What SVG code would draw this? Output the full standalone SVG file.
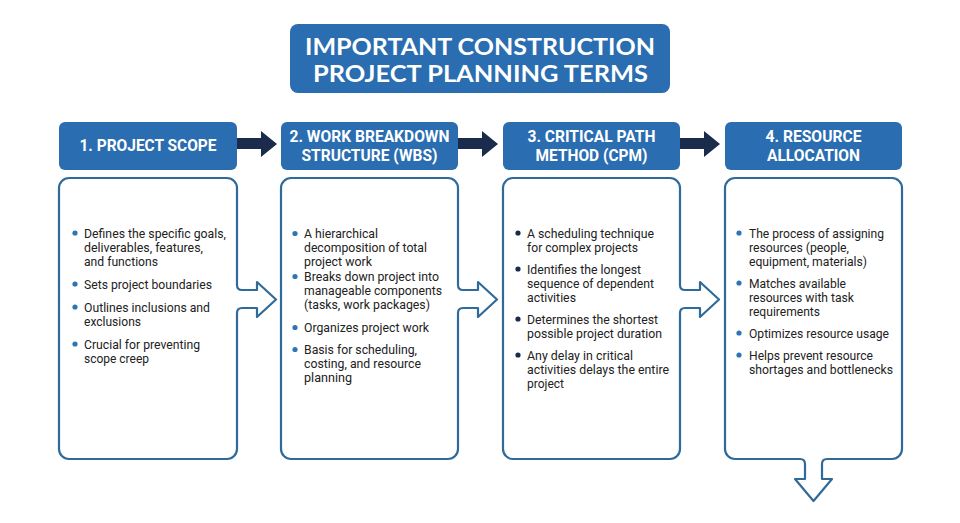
<svg xmlns="http://www.w3.org/2000/svg" width="960" height="523" viewBox="0 0 960 523">
<style>
.title{font-family:Lato,"Open Sans","Liberation Sans",sans-serif;font-weight:700;font-size:22.5px;fill:#ffffff;text-anchor:middle}
.hdr{fill:#2a6db0}
.htxt{font-family:Roboto,"Liberation Sans",sans-serif;font-weight:700;font-size:16.5px;fill:#ffffff;text-anchor:middle}
.body{fill:#ffffff;stroke:#2f6b9a;stroke-width:2.2;stroke-linejoin:round}
.t{font-family:Roboto,"Liberation Sans",sans-serif;font-size:13px;fill:#222222}
.dot{fill:#2e75b6}
.dot2{fill:#1b2a4a}
.flow{fill:#1a2b4c}
</style>
<rect width="960" height="523" fill="#ffffff"/>

<g id="title">
<rect x="290" y="24" width="380" height="69" rx="8" class="hdr"/>
<text class="title" x="480" y="54.5" textLength="350" lengthAdjust="spacingAndGlyphs">IMPORTANT CONSTRUCTION</text>
<text class="title" x="480.5" y="82" textLength="335" lengthAdjust="spacingAndGlyphs">PROJECT PLANNING TERMS</text>
</g>

<g id="connectors">
<path class="flow" d="M237 138 H261 V131 L277 144 L261 157 V149 H237 Z"/>
<path class="flow" d="M458 138 H482 V131 L498 144 L482 157 V149 H458 Z"/>
<path class="flow" d="M680 138 H704 V131 L720 144 L704 157 V149 H680 Z"/>
</g>

<g id="node1">
<rect x="59" y="122" width="178" height="48" rx="6" class="hdr"/>
<text class="htxt" x="148" y="151" textLength="137" lengthAdjust="spacingAndGlyphs">1. PROJECT SCOPE</text>
<path class="body" d="M69 178 H227 A10 10 0 0 1 237 188 V285 Q237 290 242 290 H257 V282 L276 299.5 L257 317 V308 H242 Q237 308 237 313 V449 A10 10 0 0 1 227 459 H69 A10 10 0 0 1 59 449 V188 A10 10 0 0 1 69 178 Z"/>
<circle class="dot" cx="75" cy="233" r="2.6"/>
<text class="t" x="84" y="237.5" textLength="142" lengthAdjust="spacingAndGlyphs">Defines the specific goals,</text>
<text class="t" x="84" y="251.5" textLength="119" lengthAdjust="spacingAndGlyphs">deliverables, features,</text>
<text class="t" x="84" y="265.5" textLength="74" lengthAdjust="spacingAndGlyphs">and functions</text>
<circle class="dot" cx="75" cy="284" r="2.6"/>
<text class="t" x="84" y="288.5" textLength="128" lengthAdjust="spacingAndGlyphs">Sets project boundaries</text>
<circle class="dot" cx="75" cy="307" r="2.6"/>
<text class="t" x="84" y="311.5" textLength="126" lengthAdjust="spacingAndGlyphs">Outlines inclusions and</text>
<text class="t" x="84" y="325.5" textLength="57" lengthAdjust="spacingAndGlyphs">exclusions</text>
<circle class="dot" cx="75" cy="344" r="2.6"/>
<text class="t" x="84" y="348.5" textLength="116" lengthAdjust="spacingAndGlyphs">Crucial for preventing</text>
<text class="t" x="84" y="362.5" textLength="65" lengthAdjust="spacingAndGlyphs">scope creep</text>
</g>

<g id="node2">
<rect x="281" y="122" width="177" height="48" rx="6" class="hdr"/>
<text class="htxt" x="369.5" y="142" textLength="160" lengthAdjust="spacingAndGlyphs">2. WORK BREAKDOWN</text>
<text class="htxt" x="369.5" y="161" textLength="136" lengthAdjust="spacingAndGlyphs">STRUCTURE (WBS)</text>
<path class="body" d="M291 178 H448 A10 10 0 0 1 458 188 V285 Q458 290 463 290 H478 V282 L497 299.5 L478 317 V308 H463 Q458 308 458 313 V449 A10 10 0 0 1 448 459 H291 A10 10 0 0 1 281 449 V188 A10 10 0 0 1 291 178 Z"/>
<circle class="dot" cx="295" cy="233.5" r="2.6"/>
<text class="t" x="304" y="238" textLength="74" lengthAdjust="spacingAndGlyphs">A hierarchical</text>
<text class="t" x="304" y="252" textLength="123" lengthAdjust="spacingAndGlyphs">decomposition of total</text>
<text class="t" x="304" y="266" textLength="68" lengthAdjust="spacingAndGlyphs">project work</text>
<circle class="dot" cx="295" cy="276.5" r="2.6"/>
<text class="t" x="304" y="281" textLength="135" lengthAdjust="spacingAndGlyphs">Breaks down project into</text>
<text class="t" x="304" y="295" textLength="138" lengthAdjust="spacingAndGlyphs">manageable components</text>
<text class="t" x="304" y="309" textLength="126" lengthAdjust="spacingAndGlyphs">(tasks, work packages)</text>
<circle class="dot" cx="295" cy="327.5" r="2.6"/>
<text class="t" x="304" y="332" textLength="125" lengthAdjust="spacingAndGlyphs">Organizes project work</text>
<circle class="dot" cx="295" cy="349.5" r="2.6"/>
<text class="t" x="304" y="354" textLength="113" lengthAdjust="spacingAndGlyphs">Basis for scheduling,</text>
<text class="t" x="304" y="368" textLength="117" lengthAdjust="spacingAndGlyphs">costing, and resource</text>
<text class="t" x="304" y="382" textLength="48" lengthAdjust="spacingAndGlyphs">planning</text>
</g>

<g id="node3">
<rect x="503" y="122" width="177" height="48" rx="6" class="hdr"/>
<text class="htxt" x="591.5" y="142" textLength="128" lengthAdjust="spacingAndGlyphs">3. CRITICAL PATH</text>
<text class="htxt" x="591.5" y="161" textLength="112" lengthAdjust="spacingAndGlyphs">METHOD (CPM)</text>
<path class="body" d="M513 178 H670 A10 10 0 0 1 680 188 V285 Q680 290 685 290 H700 V282 L719 299.5 L700 317 V308 H685 Q680 308 680 313 V449 A10 10 0 0 1 670 459 H513 A10 10 0 0 1 503 449 V188 A10 10 0 0 1 513 178 Z"/>
<circle class="dot2" cx="518" cy="233" r="2.6"/>
<text class="t" x="527" y="237.5" textLength="127" lengthAdjust="spacingAndGlyphs">A scheduling technique</text>
<text class="t" x="527" y="251.5" textLength="111" lengthAdjust="spacingAndGlyphs">for complex projects</text>
<circle class="dot2" cx="518" cy="269" r="2.6"/>
<text class="t" x="527" y="273.5" textLength="114" lengthAdjust="spacingAndGlyphs">Identifies the longest</text>
<text class="t" x="527" y="287.5" textLength="127" lengthAdjust="spacingAndGlyphs">sequence of dependent</text>
<text class="t" x="527" y="301.5" textLength="49" lengthAdjust="spacingAndGlyphs">activities</text>
<circle class="dot2" cx="518" cy="319" r="2.6"/>
<text class="t" x="527" y="323.5" textLength="131" lengthAdjust="spacingAndGlyphs">Determines the shortest</text>
<text class="t" x="527" y="337.5" textLength="135" lengthAdjust="spacingAndGlyphs">possible project duration</text>
<circle class="dot2" cx="518" cy="355" r="2.6"/>
<text class="t" x="527" y="359.5" textLength="106" lengthAdjust="spacingAndGlyphs">Any delay in critical</text>
<text class="t" x="527" y="373.5" textLength="142" lengthAdjust="spacingAndGlyphs">activities delays the entire</text>
<text class="t" x="527" y="387.5" textLength="37" lengthAdjust="spacingAndGlyphs">project</text>
</g>

<g id="node4">
<rect x="725" y="122" width="177" height="48" rx="6" class="hdr"/>
<text class="htxt" x="813.5" y="142" textLength="96" lengthAdjust="spacingAndGlyphs">4. RESOURCE</text>
<text class="htxt" x="813.5" y="161" textLength="93" lengthAdjust="spacingAndGlyphs">ALLOCATION</text>
<path class="body" d="M735 178 H892 A10 10 0 0 1 902 188 V449 A10 10 0 0 1 892 459 H827 Q822 459 822 464 V479 H832 L813.5 501 L795 479 H805 V464 Q805 459 800 459 H735 A10 10 0 0 1 725 449 V188 A10 10 0 0 1 735 178 Z"/>
<circle class="dot" cx="739" cy="233" r="2.6"/>
<text class="t" x="749" y="237.5" textLength="135" lengthAdjust="spacingAndGlyphs">The process of assigning</text>
<text class="t" x="749" y="251.5" textLength="100" lengthAdjust="spacingAndGlyphs">resources (people,</text>
<text class="t" x="749" y="266" textLength="118" lengthAdjust="spacingAndGlyphs">equipment, materials)</text>
<circle class="dot" cx="739" cy="283" r="2.6"/>
<text class="t" x="749" y="287.5" textLength="97" lengthAdjust="spacingAndGlyphs">Matches available</text>
<text class="t" x="749" y="301.5" textLength="105" lengthAdjust="spacingAndGlyphs">resources with task</text>
<text class="t" x="749" y="315.5" textLength="71" lengthAdjust="spacingAndGlyphs">requirements</text>
<circle class="dot" cx="739" cy="333" r="2.6"/>
<text class="t" x="749" y="337.5" textLength="140" lengthAdjust="spacingAndGlyphs">Optimizes resource usage</text>
<circle class="dot" cx="739" cy="355" r="2.6"/>
<text class="t" x="749" y="359.5" textLength="124" lengthAdjust="spacingAndGlyphs">Helps prevent resource</text>
<text class="t" x="749" y="373.5" textLength="144" lengthAdjust="spacingAndGlyphs">shortages and bottlenecks</text>
</g>
</svg>
